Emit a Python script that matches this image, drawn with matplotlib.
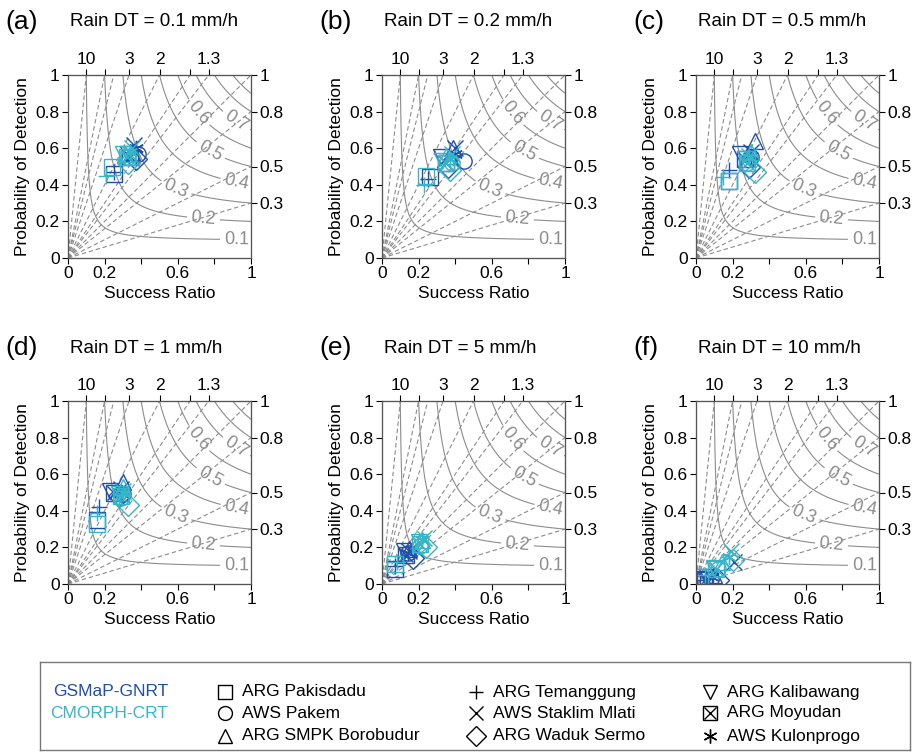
import numpy as np
import matplotlib.pyplot as plt

# rain detection thresholds (mm/h), one panel each
thresholds = [0.1, 0.2, 0.5, 1, 5, 10]
panel_tags = ['(a)', '(b)', '(c)', '(d)', '(e)', '(f)']

sites = ['ARG Pakisdadu', 'AWS Pakem', 'ARG SMPK Borobudur',
         'ARG Temanggung', 'AWS Staklim Mlati', 'ARG Waduk Sermo',
         'ARG Kalibawang', 'ARG Moyudan', 'AWS Kulonprogo']
site_markers = ['s', 'o', '^', '+', 'x', 'D', 'v', 'boxx', (6, 2, 0)]

# success ratio / probability of detection, rows = thresholds, cols = sites
gsmap_sr = [
    [0.25, 0.38, 0.35, 0.25, 0.36, 0.37, 0.33, 0.34, 0.37],
    [0.26, 0.45, 0.39, 0.25, 0.40, 0.36, 0.32, 0.35, 0.40],
    [0.18, 0.30, 0.32, 0.18, 0.30, 0.29, 0.24, 0.27, 0.30],
    [0.16, 0.30, 0.30, 0.17, 0.29, 0.28, 0.23, 0.25, 0.29],
    [0.07, 0.14, 0.15, 0.07, 0.15, 0.17, 0.12, 0.13, 0.14],
    [0.01, 0.08, 0.10, 0.02, 0.21, 0.12, 0.06, 0.05, 0.09],
]
gsmap_pod = [
    [0.46, 0.57, 0.58, 0.47, 0.62, 0.54, 0.57, 0.55, 0.60],
    [0.44, 0.53, 0.60, 0.43, 0.60, 0.50, 0.55, 0.52, 0.57],
    [0.42, 0.55, 0.64, 0.48, 0.58, 0.50, 0.57, 0.54, 0.56],
    [0.35, 0.49, 0.56, 0.42, 0.52, 0.48, 0.51, 0.50, 0.50],
    [0.08, 0.17, 0.19, 0.10, 0.18, 0.14, 0.18, 0.16, 0.17],
    [0.03, 0.03, 0.05, 0.02, 0.12, 0.02, 0.04, 0.02, 0.04],
]
cmorph_sr = [
    [0.24, 0.33, 0.31, 0.21, 0.35, 0.33, 0.30, 0.32, 0.34],
    [0.24, 0.38, 0.35, 0.23, 0.38, 0.37, 0.33, 0.35, 0.37],
    [0.18, 0.28, 0.30, 0.15, 0.29, 0.32, 0.27, 0.28, 0.29],
    [0.16, 0.29, 0.30, 0.16, 0.30, 0.33, 0.28, 0.29, 0.30],
    [0.07, 0.21, 0.22, 0.08, 0.23, 0.24, 0.20, 0.21, 0.22],
    [0.02, 0.12, 0.14, 0.05, 0.19, 0.20, 0.10, 0.11, 0.18],
]
cmorph_pod = [
    [0.50, 0.55, 0.57, 0.45, 0.60, 0.52, 0.57, 0.55, 0.58],
    [0.45, 0.52, 0.56, 0.40, 0.57, 0.48, 0.53, 0.52, 0.54],
    [0.42, 0.52, 0.58, 0.44, 0.56, 0.47, 0.54, 0.52, 0.55],
    [0.33, 0.47, 0.53, 0.39, 0.51, 0.43, 0.49, 0.48, 0.50],
    [0.11, 0.21, 0.24, 0.12, 0.25, 0.20, 0.23, 0.22, 0.24],
    [0.04, 0.08, 0.12, 0.05, 0.18, 0.13, 0.09, 0.08, 0.15],
]

products = [('GSMaP-GNRT', '#1f4fae', gsmap_sr, gsmap_pod),
            ('CMORPH-CRT', '#35b6c8', cmorph_sr, cmorph_pod)]

csi_levels = [0.1, 0.2, 0.3, 0.4, 0.5, 0.6, 0.7, 0.8, 0.9]
bias_lines = [0.3, 0.5, 0.8, 1, 1.3, 1.5, 2, 3, 4, 5, 10]
top_bias = [10, 5, 3, 2, 1.5, 1.3]
top_bias_labels = ['10', '', '3', '2', '', '1.3']
right_bias = [0.3, 0.5, 0.8, 1]
csi_label_pos = [(0.92, 0.09), (0.74, 0.21), (0.59, 0.38), (0.92, 0.41),
                 (0.78, 0.59), (0.72, 0.80), (0.92, 0.75)]

W, H = 917, 755
fig = plt.figure(figsize=(W / 100, H / 100), dpi=100)
plt.rcParams['font.family'] = 'Liberation Sans'

col_left = [68, 382, 696]
row_top = [75, 401]
ax_w, ax_h = 183, 183

sr_grid, pod_grid = np.meshgrid(np.linspace(0.005, 1, 400), np.linspace(0.005, 1, 400))
csi_grid = 1.0 / (1.0 / sr_grid + 1.0 / pod_grid - 1.0)

gray = '#8c8c8c'


def draw_point(ax, x, y, m, color, ms=11):
    kw = dict(ls='none', mfc='none', mec=color, ms=ms, mew=1.0)
    if m == 'boxx':
        ax.plot(x, y, marker='s', **kw)
        ax.plot(x, y, marker='x', **{**kw, 'ms': ms - 1})
    else:
        ax.plot(x, y, marker=m, **kw)


for k, dt in enumerate(thresholds):
    r, c = divmod(k, 3)
    left, top = col_left[c], row_top[r]
    ax = fig.add_axes([left / W, 1 - (top + ax_h) / H, ax_w / W, ax_h / H])

    cs = ax.contour(sr_grid, pod_grid, csi_grid, levels=csi_levels,
                    colors=gray, linewidths=0.8)
    ax.clabel(cs, levels=csi_levels[:7], manual=csi_label_pos,
              fmt='%.1f', fontsize=13, inline=True, inline_spacing=4)

    for b in bias_lines:
        ax.plot([0, min(1, 1 / b)], [0, min(1, b)], ls=(0, (4, 2.5)),
                color=gray, lw=0.8)

    for name, color, srs, pods in products:
        for s in range(len(sites)):
            draw_point(ax, srs[k][s], pods[k][s], site_markers[s], color)

    ax.set_xlim(0, 1)
    ax.set_ylim(0, 1)
    ax.set_xticks([0, 0.2, 0.4, 0.6, 0.8, 1])
    ax.set_xticklabels(['0', '0.2', '', '0.6', '', '1'])
    ax.set_yticks([0, 0.2, 0.4, 0.6, 0.8, 1])
    ax.set_yticklabels(['0', '0.2', '0.4', '0.6', '0.8', '1'])
    ax.set_xlabel('Success Ratio', fontsize=12.5, labelpad=3)
    ax.set_ylabel('Probability of Detection', fontsize=12.5, labelpad=4)
    ax.tick_params(labelsize=12.5, length=4, width=0.8, pad=2)

    axr = ax.twinx()
    axr.set_ylim(0, 1)
    axr.set_yticks(right_bias)
    axr.set_yticklabels([f'{b:g}' for b in right_bias])
    axr.tick_params(labelsize=12.5, length=4, width=0.8, pad=2)

    axt = ax.twiny()
    axt.set_xlim(0, 1)
    axt.set_xticks([1 / b for b in top_bias])
    axt.set_xticklabels(top_bias_labels)
    axt.tick_params(labelsize=12.5, length=4, width=0.8, pad=2)

    for a in (ax, axr, axt):
        for sp in a.spines.values():
            sp.set_color('#555555')
            sp.set_linewidth(0.8)

    fig.text((left - 63) / W, 1 - (top - 53) / H, panel_tags[k],
             fontsize=19, va='center', ha='left')
    fig.text((left + 2) / W, 1 - (top - 53) / H, f'Rain DT = {dt:g} mm/h',
             fontsize=13.5, va='center', ha='left')

# legend box drawn in pixel units
box_l, box_t, box_r, box_b = 40, 662, 910, 750
lax = fig.add_axes([box_l / W, 1 - box_b / H, (box_r - box_l) / W, (box_b - box_t) / H])
lax.set_xlim(box_l, box_r)
lax.set_ylim(box_b, box_t)
lax.set_xticks([])
lax.set_yticks([])
for sp in lax.spines.values():
    sp.set_color('#777777')
    sp.set_linewidth(1.0)

row_y = [692, 713, 736]
for i, (name, color, _, _) in enumerate(products):
    lax.text(168, row_y[i], name, color=color, fontsize=12.5, ha='right', va='center')

col_x = [225, 476, 710]
for s, site in enumerate(sites):
    cx, ry = col_x[s // 3], row_y[s % 3]
    draw_point(lax, cx, ry, site_markers[s], 'black', ms=10)
    lax.text(cx + 17, ry, site, fontsize=12.5, ha='left', va='center')

fig.savefig('out.png', dpi=100)
